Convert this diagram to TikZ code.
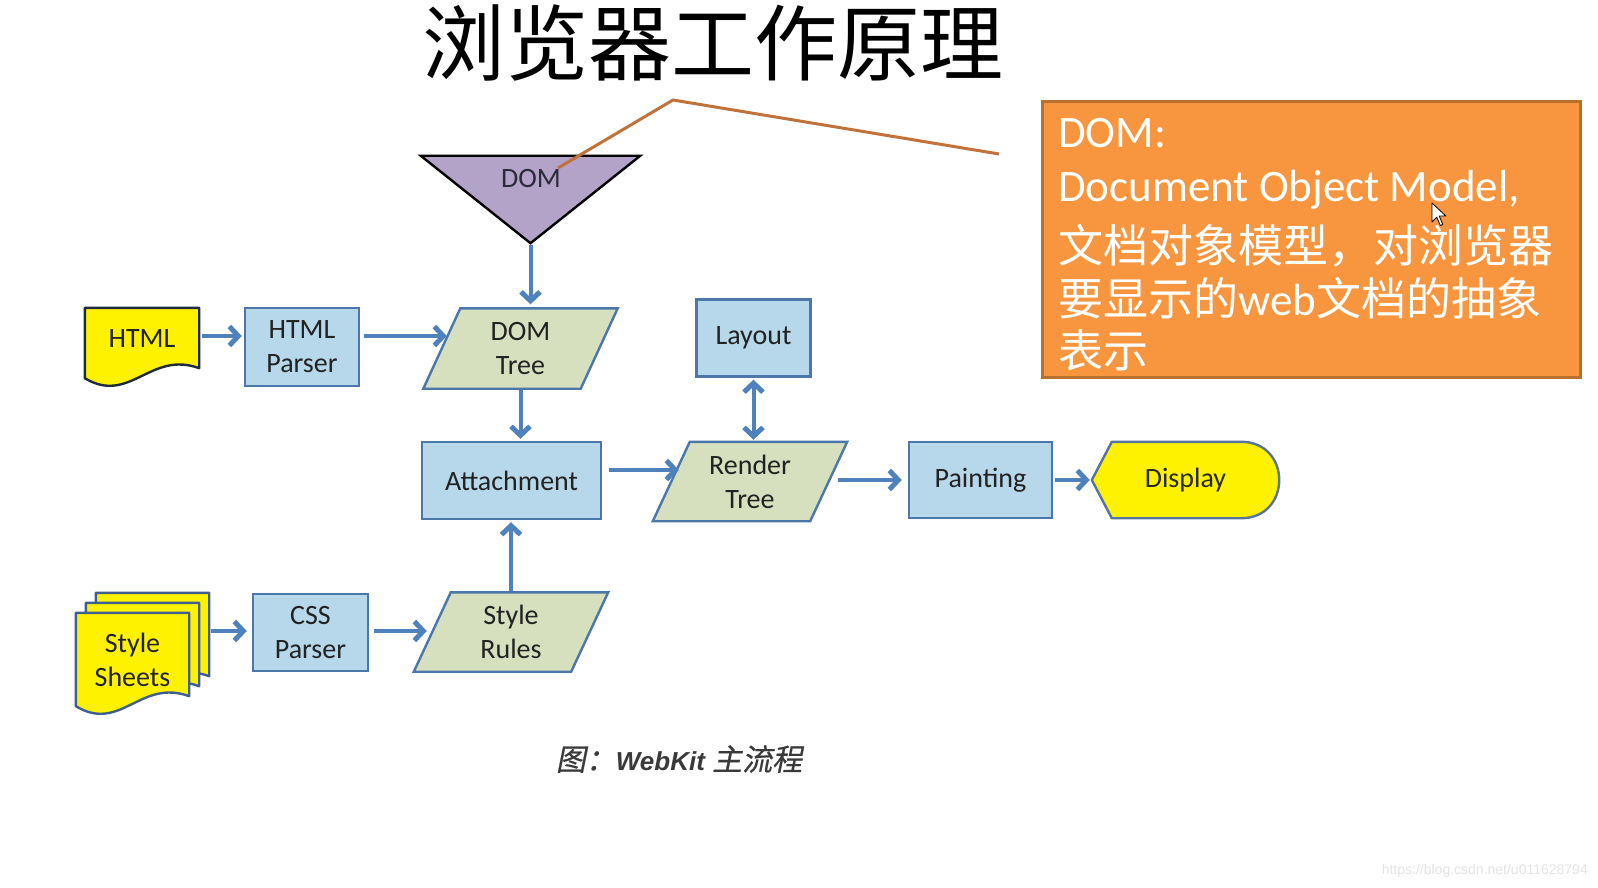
\documentclass[tikz,border=0pt]{standalone}
\usepackage{fontspec}
\setmainfont{Carlito}
\newfontfamily\cjk{Noto Sans CJK SC}
\newfontfamily\cjkcap{Noto Sans CJK SC}[FakeSlant=0.2,FakeBold=0.6]
\newfontfamily\capfont{Liberation Sans}
\usetikzlibrary{arrows.meta,calc}
\pgfdeclarelayer{shapes}
\pgfsetlayers{shapes,main}

\definecolor{ink}{HTML}{222222}
\definecolor{domink}{HTML}{2A2A3A}
\definecolor{dispink}{HTML}{2A2A10}
\definecolor{capink}{HTML}{3A3A3A}
\definecolor{sourceink}{HTML}{E4E4E4}
\definecolor{boxfill}{HTML}{B7D7EA}
\definecolor{edge}{HTML}{4B77AA}
\definecolor{parafill}{HTML}{D6DFBE}
\definecolor{docyellow}{HTML}{FFF200}
\definecolor{htmledge}{HTML}{1E2B3C}
\definecolor{sheetedge}{HTML}{3F5F8F}
\definecolor{dispedge}{HTML}{56749C}
\definecolor{arrowblue}{HTML}{4F81BD}
\definecolor{dompurple}{HTML}{B4A3C8}
\definecolor{notefill}{HTML}{F7963F}
\definecolor{noteedge}{HTML}{B8702E}
\definecolor{calloutline}{HTML}{C0723A}

\newcommand\nodefont{\fontsize{28}{34}\selectfont}
\newcommand\capcjk{\cjkcap\mdseries\upshape\fontsize{30}{30}\selectfont}

% document symbol with a wavy lower edge, drawn around a node
\newcommand\docshape[2]{%
  \draw[#2] (#1.north west) -- (#1.north east) -- ([yshift=10pt]#1.south east)
    .. controls +(-49pt,18pt) and +(45pt,-27pt) .. (#1.south west) -- cycle;}
% slanted data symbol, drawn around a node
\newcommand\parashape[2]{%
  \draw[#2] ([xshift=18.5pt]#1.north west) -- ([xshift=18.5pt]#1.north east)
    -- ([xshift=-18.5pt]#1.south east) -- ([xshift=-18.5pt]#1.south west) -- cycle;}

\tikzset{
  every node/.style={font=\nodefont, text=ink},
  procbox/.style={draw=edge, fill=boxfill, line width=2.4pt, inner sep=0pt, align=center},
  hidden/.style={inner sep=0pt, align=center},
  datashape/.style={draw=edge, fill=parafill, line width=2.4pt, line join=miter},
  docfill/.style={fill=docyellow, line width=2.4pt, line join=round},
  barb/.tip={Straight Barb[length=9pt,width=19pt,line width=5pt]},
  arr/.style={draw=arrowblue, line width=4pt, -barb},
  biarr/.style={draw=arrowblue, line width=4pt, barb-barb},
  notetext/.style={anchor=base west, text=white, inner sep=0pt, font=\fontsize{45}{54}\selectfont},
}

\begin{document}
\begin{tikzpicture}[x=1pt,y=-1pt]
\path[use as bounding box] (0,0) rectangle (1598,888);

% title
\node[font=\cjk\fontsize{83}{83}\selectfont, text=black] (title) at (712.5,43) {浏览器工作原理};

% row guides for horizontal connectors
\coordinate (rowA) at (0,336);
\coordinate (rowB) at (0,470);
\coordinate (rowC) at (0,480);
\coordinate (rowD) at (0,631);

% DOM symbol
\node[hidden, minimum width=219pt, minimum height=87pt] (dom) at (530.5,199.5) {};
\node[text=domink] (domtext) at (531,179) {DOM};

% input documents
\node[hidden, minimum width=114pt, minimum height=70pt, text depth=8pt] (html) at (142,343) {HTML};
\node[hidden, minimum width=113pt, minimum height=93pt] (sheetsC) at (152.5,639.5) {};
\node[hidden, minimum width=113pt, minimum height=93pt] (sheetsB) at (142.5,649.5) {};
\node[hidden, minimum width=113pt, minimum height=93pt] (sheets) at (132.5,659.5) {Style\\Sheets};

% process boxes
\node[procbox, minimum width=114pt, minimum height=78pt] (hparser) at (302,347) {HTML\\Parser};
\node[procbox, minimum width=115pt, minimum height=77pt] (cssparser) at (310.5,632.5) {CSS\\Parser};
\node[procbox, minimum width=179pt, minimum height=77pt] (attach) at (511.5,480.5) {Attachment};
\node[procbox, minimum width=114pt, minimum height=77pt] (layout) at (753.5,338) {Layout};
\node[procbox, minimum width=143pt, minimum height=76pt] (painting) at (980.5,480) {Painting};

% data nodes
\node[hidden, minimum width=157pt, minimum height=80pt] (domtree) at (520.5,348.5) {DOM\\Tree};
\node[hidden, minimum width=157pt, minimum height=79pt] (rendertree) at (750,481.5) {Render\\Tree};
\node[hidden, minimum width=157pt, minimum height=79pt] (stylerules) at (511,632) {Style\\Rules};

% display terminal
\node[hidden, minimum width=187pt, minimum height=76pt, text=dispink] (display) at (1185.5,480) {Display};

\begin{pgfonlayer}{shapes}
  \fill[white] (0,0) rectangle (1598,888);
  \draw[fill=dompurple, draw=black, line width=2.4pt, line join=miter]
    (dom.north west) -- (dom.north east) -- (dom.south) -- cycle;
  \docshape{html}{docfill, draw=htmledge}
  \docshape{sheetsC}{docfill, draw=sheetedge}
  \docshape{sheetsB}{docfill, draw=sheetedge}
  \docshape{sheets}{docfill, draw=sheetedge}
  \parashape{domtree}{datashape}
  \parashape{rendertree}{datashape}
  \parashape{stylerules}{datashape}
  \draw[fill=docyellow, draw=dispedge, line width=2.4pt, line join=round]
    (display.west) -- ([xshift=20pt]display.north west) -- ([xshift=-38pt]display.north east)
    .. controls +(50.7pt,0pt) and +(50.7pt,0pt) .. ([xshift=-38pt]display.south east)
    -- ([xshift=20pt]display.south west) -- cycle;
\end{pgfonlayer}

% connectors
\draw[arr, shorten <=3pt, shorten >=2pt] (html.east |- rowA) -- (hparser.west |- rowA);
\draw[arr, shorten <=4pt, shorten >=-5pt] (hparser.east |- rowA) -- (domtree.west |- rowA);
\draw[arr, shorten <=2pt, shorten >=4pt] (dom.south) -- (dom.south |- domtree.north);
\draw[arr, shorten <=1pt, shorten >=2pt] (domtree.south) -- (domtree.south |- attach.north);
\draw[arr, shorten <=7pt, shorten >=-7.5pt] (attach.east |- rowB) -- (rendertree.west |- rowB);
\draw[biarr, shorten <=2pt, shorten >=2pt] (layout.south) -- (layout.south |- rendertree.north);
\draw[arr, shorten <=9.5pt, shorten >=6pt] (rendertree.east |- rowC) -- (painting.west |- rowC);
\draw[arr, shorten <=2pt, shorten >=2pt] (painting.east) -- (display.west);
\draw[arr, shorten <=1pt, shorten >=2pt] (stylerules.north) -- (stylerules.north |- attach.south);
\draw[arr, shorten <=2pt, shorten >=5pt] (sheetsC.east |- rowD) -- (cssparser.west |- rowD);
\draw[arr, shorten <=5pt, shorten >=5.5pt] (cssparser.east |- rowD) -- (stylerules.west |- rowD);

% DOM note with its callout line
\coordinate (calloutFoot) at (558,168);
\coordinate (calloutBend) at (673,100);
\coordinate (calloutEnd) at (999,154);
\draw[calloutline, line width=3pt, line join=round] (calloutFoot) -- (calloutBend) -- (calloutEnd);

\node[draw=noteedge, fill=notefill, line width=3pt, minimum width=538pt, minimum height=275pt, inner sep=0pt] (note) at (1311,239.5) {};
\node[notetext] (noteA) at (1058,147) {DOM:};
\node[notetext] (noteB) at (1058,201) {Document Object Model,};
\node[notetext] (noteC) at (1058,262) {\cjk 文档对象模型，对浏览器};
\node[notetext] (noteD) at (1058,315) {{\cjk 要显示的}web{\cjk 文档的抽象}};
\node[notetext] (noteE) at (1058,367) {\cjk 表示};

% mouse pointer
\coordinate (pointer) at (1432,203);
\draw[fill=white, draw=black, line width=0.8pt, line join=round]
  (pointer) -- ++(0,19) -- ++(4.8,-4.8) -- ++(3.6,8.4) -- ++(2.4,-1.2) -- ++(-3.6,-8.4) -- ++(6.6,0) -- cycle;

% caption
\node[font=\capfont\bfseries\itshape\fontsize{26}{30}\selectfont, text=capink] (caption) at (679,759)
  {{\capcjk 图：}WebKit {\capcjk 主流程}};

% source line
\node[font=\capfont\fontsize{14}{16}\selectfont, text=sourceink, anchor=base east, inner sep=0pt] (source) at (1588,874)
  {https://blog.csdn.net/u011628794};
\end{tikzpicture}
\end{document}
